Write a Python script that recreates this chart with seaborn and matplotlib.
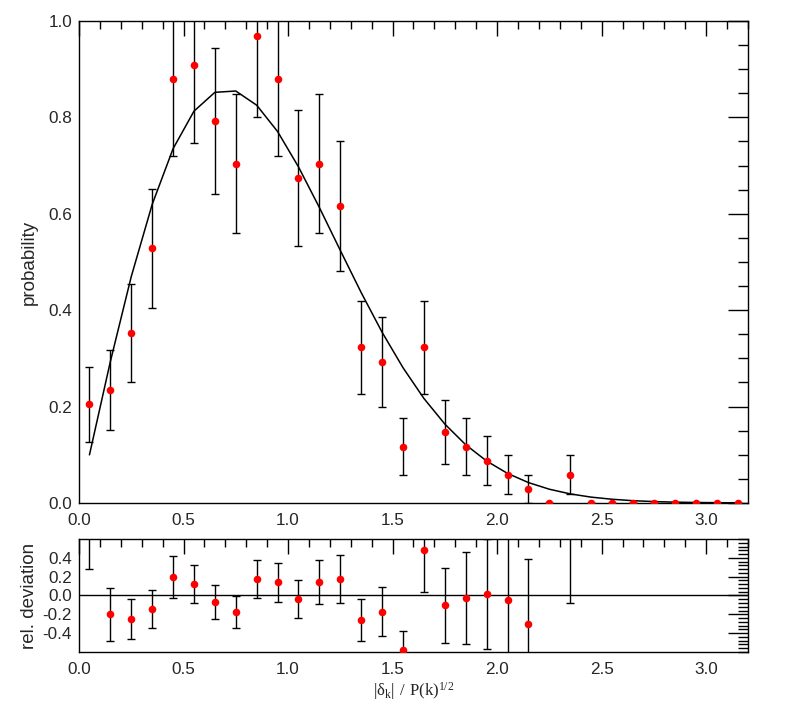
import matplotlib
matplotlib.use("Agg")
import matplotlib.pyplot as plt
from matplotlib.ticker import MultipleLocator, FixedLocator, FormatStrFormatter
import seaborn as sns

# bin centres of |delta_k| / P(k)^1/2
bin_centers = [0.05, 0.15, 0.25, 0.35, 0.45, 0.55, 0.65, 0.75, 0.85, 0.95,
               1.05, 1.15, 1.25, 1.35, 1.45, 1.55, 1.65, 1.75, 1.85, 1.95,
               2.05, 2.15, 2.25, 2.35, 2.45, 2.55, 2.65, 2.75, 2.85, 2.95,
               3.05, 3.15]

# measured probability and errors
prob = [0.205, 0.235, 0.352, 0.528, 0.880, 0.909, 0.792, 0.704, 0.968, 0.880,
        0.674, 0.704, 0.616, 0.323, 0.293, 0.117, 0.323, 0.147, 0.117, 0.088,
        0.059, 0.029, 0.0, 0.059, 0.0, 0.0, 0.0, 0.0, 0.0, 0.0,
        0.0, 0.0]
prob_err = [0.078, 0.083, 0.102, 0.124, 0.161, 0.163, 0.152, 0.144, 0.168, 0.161,
            0.141, 0.144, 0.134, 0.097, 0.093, 0.059, 0.097, 0.066, 0.059, 0.051,
            0.041, 0.029, 0.0, 0.041, 0.0, 0.0, 0.0, 0.0, 0.0, 0.0,
            0.0, 0.0]

# expected distribution (solid line)
model = [0.0998, 0.2933, 0.4697, 0.6193, 0.7350, 0.8129, 0.8520, 0.8547, 0.8253, 0.7706,
         0.6972, 0.6129, 0.5240, 0.4364, 0.3541, 0.2806, 0.2168, 0.1637, 0.1207, 0.0870,
         0.0613, 0.0423, 0.0285, 0.0188, 0.0121, 0.0077, 0.0047, 0.0029, 0.0017, 0.0010,
         0.0006, 0.0003]

# relative deviation panel
rel_dev = [1.057, -0.200, -0.251, -0.148, 0.197, 0.118, -0.071, -0.177, 0.173, 0.142,
           -0.033, 0.148, 0.175, -0.261, -0.172, -0.582, 0.488, -0.104, -0.028, 0.011,
           -0.043, -0.307, -1.0, 2.123, -1.0, -1.0, -1.0, -1.0, -1.0, -1.0,
           -1.0, -1.0]
rel_err = [0.778, 0.283, 0.216, 0.201, 0.219, 0.201, 0.179, 0.168, 0.204, 0.208,
           0.202, 0.234, 0.256, 0.223, 0.262, 0.209, 0.449, 0.401, 0.486, 0.584,
           0.677, 0.693, 0.0, 2.208, 0.0, 0.0, 0.0, 0.0, 0.0, 0.0,
           0.0, 0.0]

sns.set_style("white")
plt.rcParams['font.family'] = ['Liberation Sans', 'DejaVu Sans']
plt.rcParams['axes.unicode_minus'] = False
plt.rcParams['mathtext.fontset'] = 'custom'
plt.rcParams['mathtext.rm'] = 'Liberation Serif'
plt.rcParams['axes.linewidth'] = 1.0

fig = plt.figure(figsize=(7.86, 7.09), dpi=100)
ax1 = fig.add_axes([0.1005, 0.2906, 0.8511, 0.6798])
ax2 = fig.add_axes([0.1005, 0.0804, 0.8511, 0.1594])

# top panel
ax1.errorbar(bin_centers, prob, yerr=prob_err, fmt='none', ecolor='black',
             elinewidth=1.0, capsize=2.6, capthick=1.0, zorder=2)
sns.lineplot(x=bin_centers, y=model, ax=ax1, color='black', linewidth=1.1, zorder=3)
sns.scatterplot(x=bin_centers, y=prob, ax=ax1, color='red', s=30, linewidth=0, zorder=4)

ax1.set_xlim(0, 3.2)
ax1.set_ylim(0, 1.0)
ax1.set_ylabel("probability", fontsize=13.5)
ax1.yaxis.set_label_coords(-0.061, 0.5)

# bottom panel
ax2.axhline(0, color='black', linewidth=1.0, zorder=1)
ax2.errorbar(bin_centers, rel_dev, yerr=rel_err, fmt='none', ecolor='black',
             elinewidth=1.0, capsize=2.6, capthick=1.0, zorder=2)
sns.scatterplot(x=bin_centers, y=rel_dev, ax=ax2, color='red', s=30, linewidth=0, zorder=4)

ax2.set_xlim(0, 3.2)
ax2.set_ylim(-0.6, 0.6)
ax2.set_ylabel("rel. deviation", fontsize=13.5)
ax2.yaxis.set_label_coords(-0.061, 0.5)
ax2.set_xlabel(r'$\mathrm{|δ_k|\ /\ P(k)^{1/2}}$', fontsize=12)
ax2.xaxis.labelpad = 2

for ax in (ax1, ax2):
    ax.xaxis.set_major_locator(MultipleLocator(0.5))
    ax.xaxis.set_minor_locator(MultipleLocator(0.1))
    ax.xaxis.set_major_formatter(FormatStrFormatter('%.1f'))
    ax.yaxis.set_major_formatter(FormatStrFormatter('%.1f'))
    ax.tick_params(which='both', direction='in', top=True, right=True,
                   labelsize=12.3, width=1.0, color='black')
    ax.tick_params(axis='x', which='major', length=11, pad=7.5)
    ax.tick_params(axis='x', which='minor', length=5.5)
    ax.tick_params(axis='y', which='major', length=14.5, pad=5)
    ax.tick_params(axis='y', which='minor', length=7.2)
    for sp in ax.spines.values():
        sp.set_visible(True)
        sp.set_color('black')

ax1.yaxis.set_major_locator(MultipleLocator(0.2))
ax1.yaxis.set_minor_locator(MultipleLocator(0.05))
ax2.yaxis.set_major_locator(FixedLocator([-0.4, -0.2, 0.0, 0.2, 0.4]))
ax2.yaxis.set_minor_locator(MultipleLocator(0.04))

fig.savefig("out.png", dpi=100)
